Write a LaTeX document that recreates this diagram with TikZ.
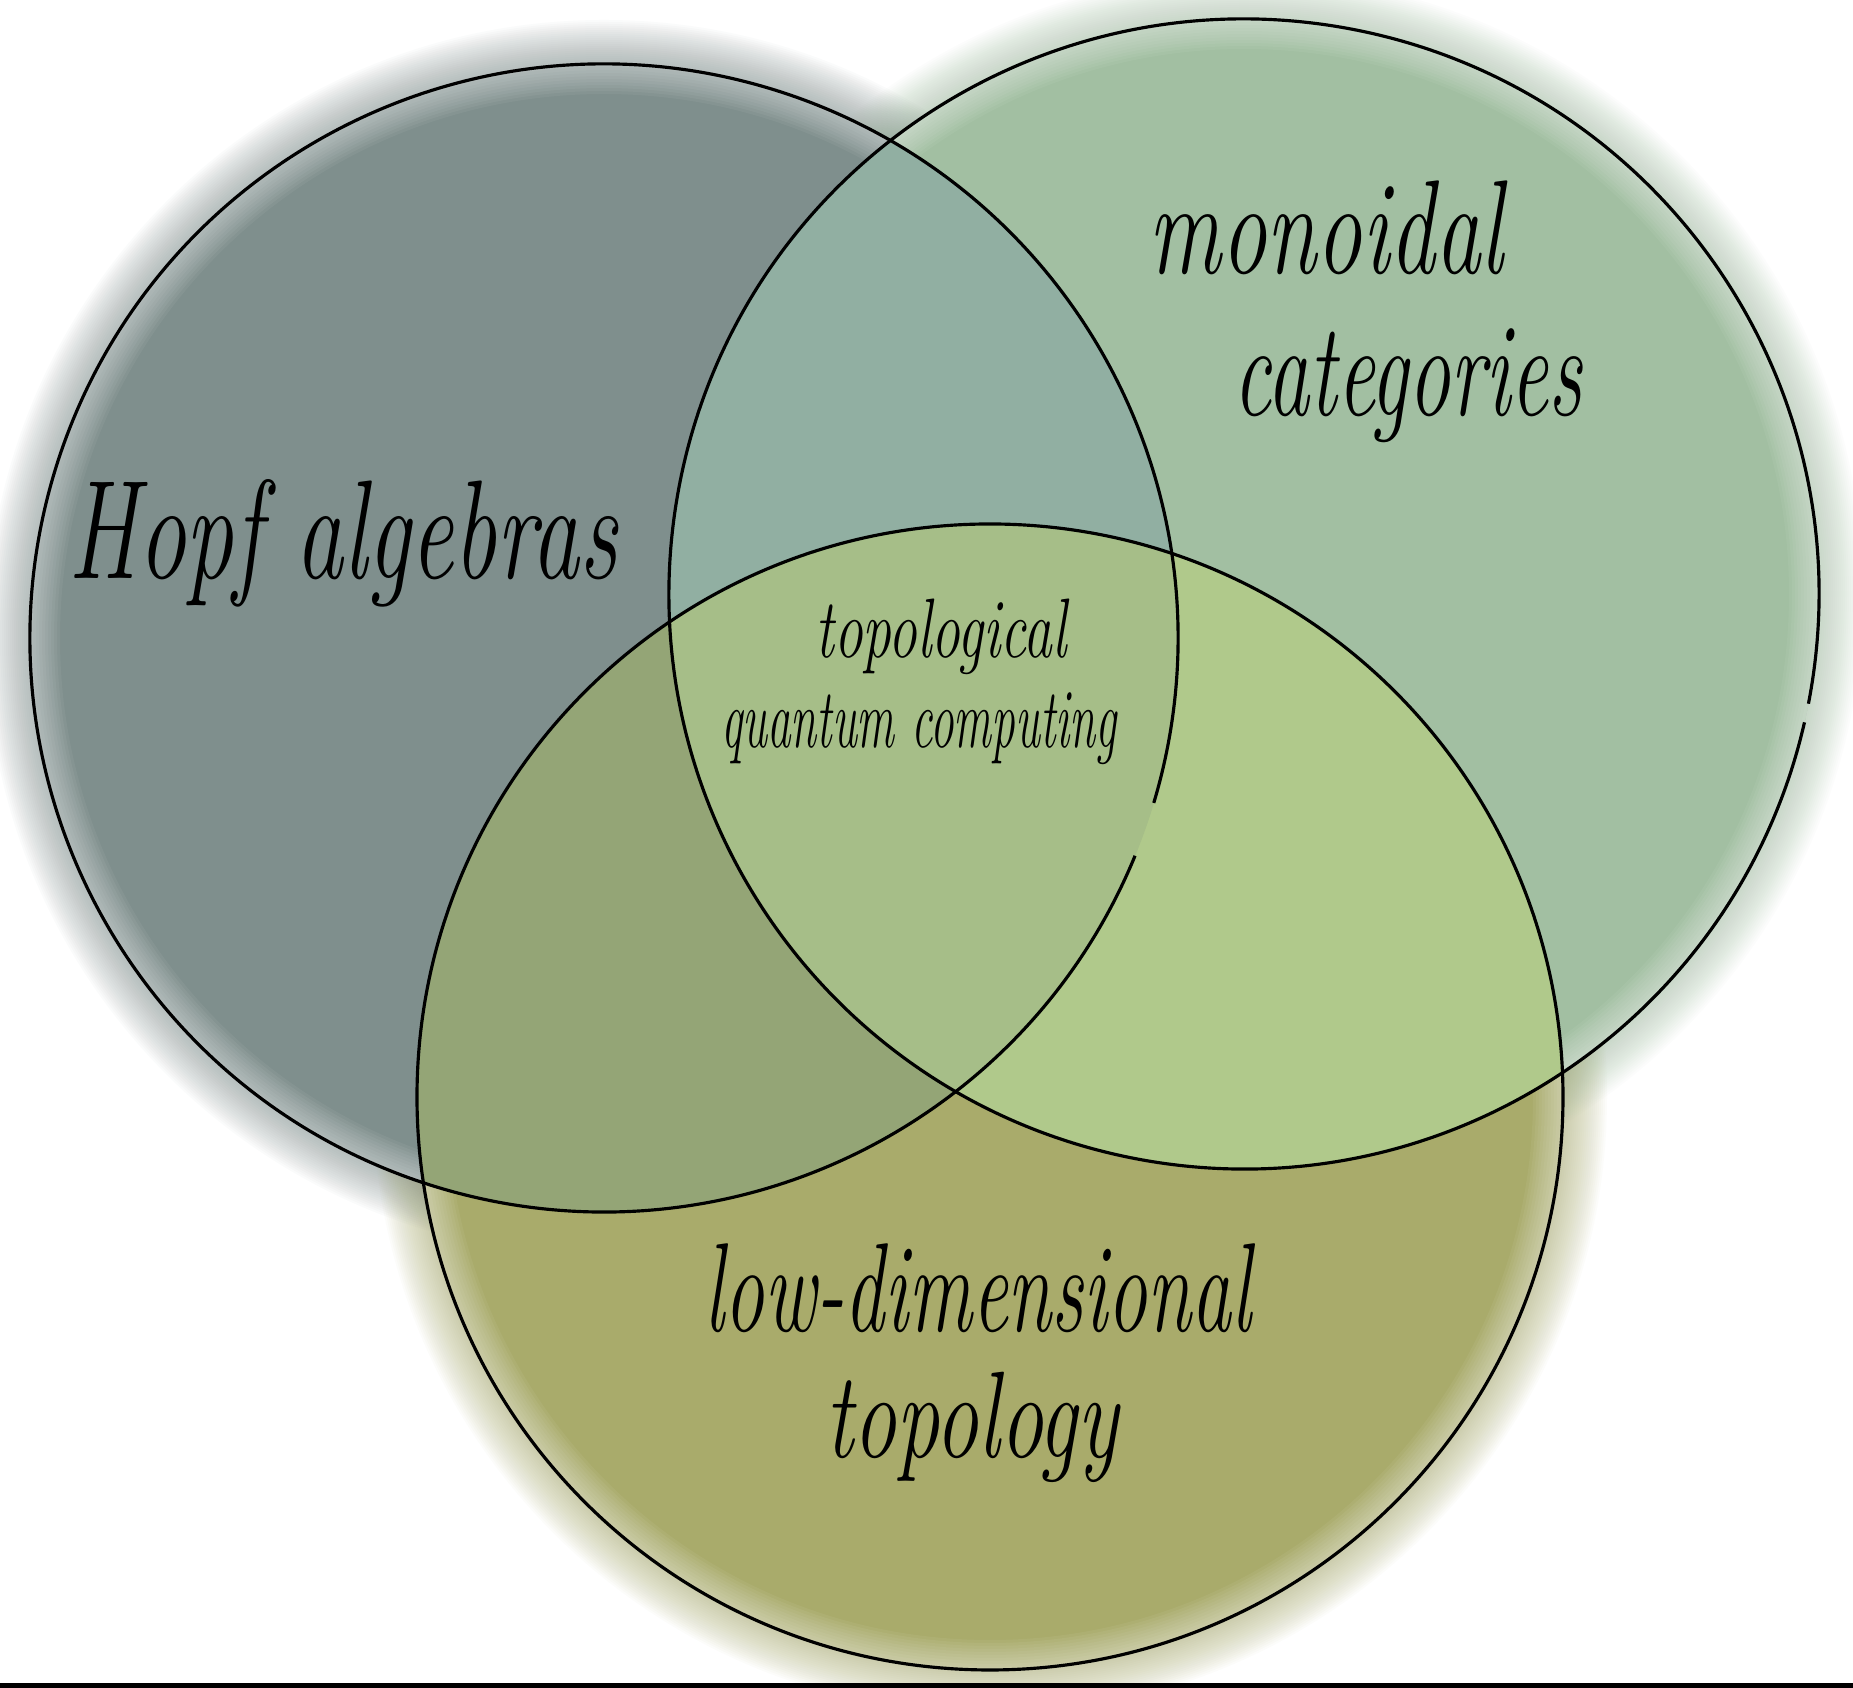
\documentclass[tikz,border=0pt]{standalone}
\usepackage{fontspec}
\usepackage{graphicx}
\definecolor{colH}{HTML}{7F8F8D}
\definecolor{colM}{HTML}{A2BFA2}
\definecolor{colL}{HTML}{A9AB6B}
\definecolor{colHM}{HTML}{91AFA2}
\definecolor{colHL}{HTML}{94A576}
\definecolor{colML}{HTML}{B0C98B}
\definecolor{colHML}{HTML}{A6BE88}
\begin{document}
\begin{tikzpicture}[x=0.01cm,y=0.01cm,
  lbl/.style={inner sep=0pt, anchor=base, text=black},
  ring/.style={draw=black, line width=0.9pt},
  glow/.style={opacity=0.032},
  fade/.style={white, opacity=0.05}]
\useasboundingbox (0,0) rectangle (1853,1688);
\clip (0,0) rectangle (1853,1688);
\fill[white] (0,0) rectangle (1853,1688);
\coordinate (cH) at (604,1050);
\coordinate (cM) at (1244,1094);
\coordinate (cL) at (990,591);
% outer glow
\foreach \k in {2,4,...,44} {
  \fill[colH, glow] (cH) circle[radius=574+\k];
  \fill[colM, glow] (cM) circle[radius=575+\k];
  \fill[colL, glow] (cL) circle[radius=573+\k];
}
% solid regions
\fill[colH] (cH) circle[radius=574];
\fill[colM] (cM) circle[radius=575];
\fill[colL] (cL) circle[radius=573];
\begin{scope}
  \clip (cH) circle[radius=574];
  \fill[colHM] (cM) circle[radius=575];
  \fill[colHL] (cL) circle[radius=573];
\end{scope}
\begin{scope}
  \clip (cM) circle[radius=575];
  \fill[colML] (cL) circle[radius=573];
\end{scope}
\begin{scope}
  \clip (cH) circle[radius=574];
  \clip (cM) circle[radius=575];
  \fill[colHML] (cL) circle[radius=573];
\end{scope}
% inner fade along the outer boundary
\begin{scope}[even odd rule]
  \clip (0,0) rectangle (1853,1688) (cM) circle[radius=575];
  \clip (0,0) rectangle (1853,1688) (cL) circle[radius=573];
  \foreach \k in {3,6,...,30} \fill[fade] (cH) circle[radius=574] (cH) circle[radius=574-\k];
\end{scope}
\begin{scope}[even odd rule]
  \clip (0,0) rectangle (1853,1688) (cH) circle[radius=574];
  \clip (0,0) rectangle (1853,1688) (cL) circle[radius=573];
  \foreach \k in {3,6,...,30} \fill[fade] (cM) circle[radius=575] (cM) circle[radius=575-\k];
\end{scope}
\begin{scope}[even odd rule]
  \clip (0,0) rectangle (1853,1688) (cH) circle[radius=574];
  \clip (0,0) rectangle (1853,1688) (cM) circle[radius=575];
  \foreach \k in {3,6,...,30} \fill[fade] (cL) circle[radius=573] (cL) circle[radius=573-\k];
\end{scope}
% outlines
\draw[ring] (cH) ++(-16.7:574) arc[start angle=-16.7, end angle=337.7, radius=574];
\draw[ring] (cM) ++(-11:575) arc[start angle=-11, end angle=347.1, radius=575];
\draw[ring] (cL) circle[radius=573];
% labels
\node[lbl] (hopf) at (343,1109) {\fontsize{40}{48}\selectfont\itshape\scalebox{0.68}[1]{Hopf algebras}};
\node[lbl] (mono) at (1326,1414) {\fontsize{38}{46}\selectfont\itshape\scalebox{0.68}[1]{monoidal}};
\node[lbl] (cat) at (1408,1272) {\fontsize{38}{46}\selectfont\itshape\scalebox{0.63}[1]{categories}};
\node[lbl] (topol) at (941,1030) {\fontsize{24}{29}\selectfont\itshape\scalebox{0.68}[1]{topological}};
\node[lbl] (qc) at (919,940) {\fontsize{24}{29}\selectfont\itshape\scalebox{0.56}[1]{quantum computing}};
\node[lbl] (lowdim) at (978,356) {\fontsize{36}{43}\selectfont\itshape\scalebox{0.63}[1]{low-dimensional}};
\node[lbl] (topo) at (972,230) {\fontsize{35}{42}\selectfont\itshape\scalebox{0.70}[1]{topology}};
% bottom bar
\fill[black] (0,0) rectangle (1853,5);
\end{tikzpicture}
\end{document}
